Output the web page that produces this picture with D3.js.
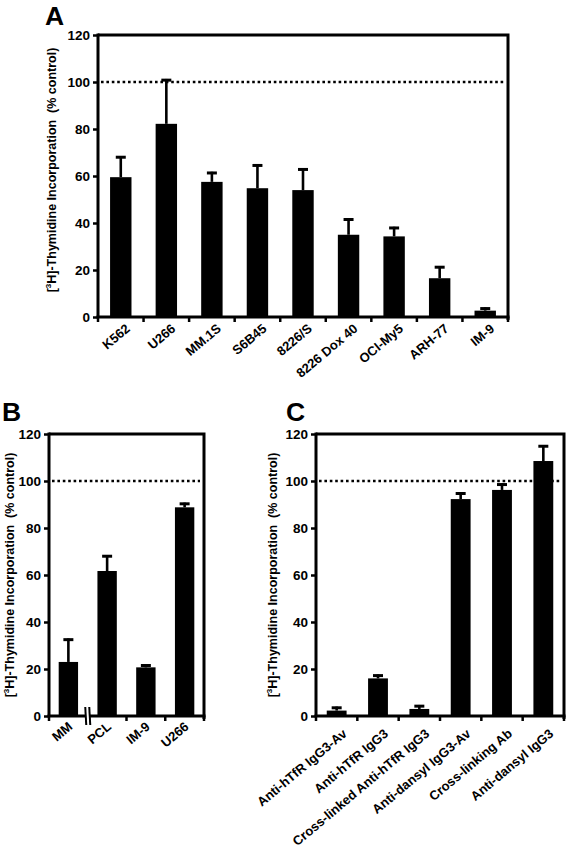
<!DOCTYPE html>
<html><head><meta charset="utf-8">
<script src="https://cdn.jsdelivr.net/npm/d3@7"></script>
<style>
html,body{margin:0;padding:0;background:#fff;}
svg{display:block;font-family:"Liberation Sans",Arial,sans-serif;font-weight:bold;}
</style></head>
<body><svg id="c" width="566" height="852"></svg>
<script>
const yTicks = [0,20,40,60,80,100,120];
const refLine = 100;

const catsA = ["K562","U266","MM.1S","S6B45","8226/S","8226 Dox 40","OCI-My5","ARH-77","IM-9"];
const valsA = [59.5, 82.2, 57.5, 54.8, 54, 35, 34.3, 16.5, 2.7];
const errA  = [68.5, 101.3, 61.8, 65, 63.3, 42, 38.4, 21.7, 4.1];

const catsB = ["MM","PCL","IM-9","U266"];
const valsB = [23, 61.7, 20.7, 88.8];
const errB  = [33, 68.5, 22, 90.8];

const catsC = ["Anti-hTfR IgG3-Av","Anti-hTfR IgG3","Cross-linked Anti-hTfR IgG3","Anti-dansyl IgG3-Av","Cross-linking Ab","Anti-dansyl IgG3"];
const valsC = [2.3, 16, 3, 92.3, 96.2, 108.5];
const errC  = [4, 17.7, 4.7, 95.2, 99, 115.3];

const svg = d3.select("#c");

function panel(o){
  const g = svg.append("g");
  const x = d3.scaleBand().domain(o.cats).range([o.x0,o.x1]).paddingInner(0).paddingOuter(0);
  const y = d3.scaleLinear().domain([0,120]).range([o.y0,o.yTop]);
  const bw = x.bandwidth()*o.barFrac;
  g.append("path").attr("d",`M${o.x0},${o.yTop}H${o.x1}V${o.y0+3}`)
    .attr("fill","none").attr("stroke","#000").attr("stroke-width",3);
  g.append("line").attr("x1",o.x0+3).attr("x2",o.x1-4).attr("y1",y(refLine)).attr("y2",y(refLine))
    .attr("stroke","#000").attr("stroke-width",2.6).attr("stroke-dasharray","2.6,2.8");
  g.selectAll("rect.bar").data(o.cats).join("rect")
    .attr("x",d=>x(d)+x.bandwidth()/2-bw/2).attr("width",bw)
    .attr("y",(d,i)=>y(o.vals[i])).attr("height",(d,i)=>y(0)-y(o.vals[i])).attr("fill","#000");
  o.cats.forEach((d,i)=>{
    const cx = x(d)+x.bandwidth()/2;
    g.append("line").attr("x1",cx).attr("x2",cx).attr("y1",y(o.vals[i])).attr("y2",y(o.errs[i]))
      .attr("stroke","#000").attr("stroke-width",2.6);
    g.append("line").attr("x1",cx-5).attr("x2",cx+5).attr("y1",y(o.errs[i])+1.2).attr("y2",y(o.errs[i])+1.2)
      .attr("stroke","#000").attr("stroke-width",3);
  });
  const ya = g.append("g").attr("transform",`translate(${o.x0},0)`)
    .call(d3.axisLeft(y).tickValues(yTicks).tickSize(5).tickPadding(3));
  ya.select(".domain").attr("stroke-width",3).attr("d",`M0,${o.yTop-1.5}V${o.y0}`);
  ya.selectAll(".tick line").attr("stroke-width",2.5);
  ya.selectAll("text").attr("font-size",13.5).attr("font-family","Liberation Sans, Arial").attr("font-weight","bold").attr("fill","#000");
  g.append("line").attr("x1",o.x0-1.5).attr("x2",o.x1+1.5).attr("y1",o.y0).attr("y2",o.y0)
    .attr("stroke","#000").attr("stroke-width",3);
  const bounds = o.cats.map(d=>x(d)).concat([o.x1]);
  bounds.forEach((bx,i)=>{
    if(o.breakAt!==undefined && i===o.breakAt) return;
    g.append("line").attr("x1",bx).attr("x2",bx).attr("y1",o.y0).attr("y2",o.y0+5)
      .attr("stroke","#000").attr("stroke-width",2.5);
  });
  if(o.breakAt!==undefined){
    const bx = bounds[o.breakAt];
    g.append("rect").attr("x",bx-2).attr("y",o.y0-2).attr("width",4).attr("height",4).attr("fill","#fff");
    [-2,2].forEach(dx=>{
      g.append("line").attr("x1",bx+dx-0.5).attr("x2",bx+dx+0.5).attr("y1",o.y0-9).attr("y2",o.y0+9)
        .attr("stroke","#000").attr("stroke-width",2);
    });
  }
  o.cats.forEach(d=>{
    const cx = x(d)+x.bandwidth()/2 + o.lblDx;
    const ly = o.y0 + o.lblDy;
    g.append("text").attr("transform",`translate(${cx},${ly}) rotate(-40)`)
      .attr("text-anchor","end").attr("font-size",o.lblSize).text(d);
  });
  const t = g.append("text").attr("transform",`translate(${o.titleX},${(o.yTop+o.y0)/2+o.titleDy}) rotate(-90)`)
    .attr("text-anchor","middle").attr("font-size",12.5);
  t.append("tspan").text("[");
  t.append("tspan").attr("font-size",8).attr("dy",-5).text("3");
  t.append("tspan").attr("dy",5).text("H]-Thymidine Incorporation\u00a0\u00a0(% control)");
  g.append("text").attr("x",o.letterX).attr("y",o.letterY).attr("font-size",26.5).text(o.letter);
}

panel({cats:catsA,vals:valsA,errs:errA,x0:98,x1:508,yTop:35,y0:317,barFrac:0.47,
  lblDx:10,lblDy:13,lblSize:13,titleX:56,titleDy:-6,letter:"A",letterX:45,letterY:25});
panel({cats:catsB,vals:valsB,errs:errB,x0:49,x1:204,yTop:434,y0:716,barFrac:0.5,breakAt:1,
  lblDx:5,lblDy:12,lblSize:13,titleX:14,titleDy:0,letter:"B",letterX:2,letterY:421});
panel({cats:catsC,vals:valsC,errs:errC,x0:316,x1:564,yTop:434,y0:716,barFrac:0.48,
  lblDx:11,lblDy:19,lblSize:13,titleX:277,titleDy:0,letter:"C",letterX:286,letterY:421});
</script></body></html>
